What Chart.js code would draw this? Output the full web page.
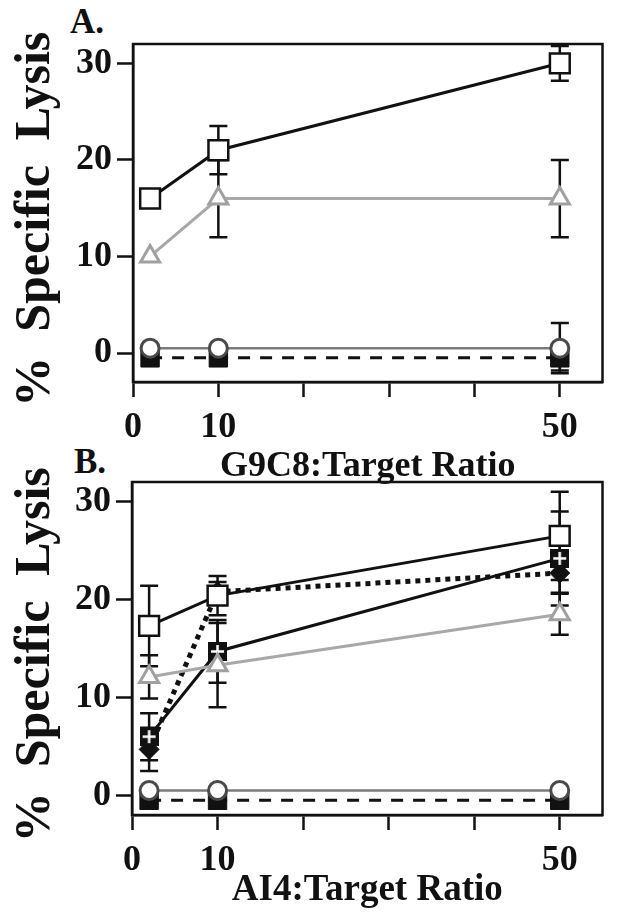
<!DOCTYPE html>
<html>
<head>
<meta charset="utf-8">
<script src="https://cdn.jsdelivr.net/npm/chart.js@4.4.1/dist/chart.umd.min.js"></script>
<style>
  body { margin:0; background:#fff; width:619px; height:914px; position:relative; overflow:hidden; }
  canvas { position:absolute; left:0; }
  #chartA { top:0; }
  #chartB { top:440px; }
  .panel { position:absolute; font-family:"Liberation Serif","Times New Roman",serif; font-weight:bold; font-size:35px; color:#111; }
</style>
</head>
<body>
<div class="panel" style="left:70px;top:2px;">A.</div>
<div class="panel" style="left:74px;top:442px;">B.</div>
<canvas id="chartA" width="619" height="490"></canvas>
<canvas id="chartB" width="619" height="474"></canvas>
<script>
// effector:target ratios
const ratios = [2, 10, 50]
const xTicks = [0, 10, 20, 30, 40, 50]
const xLabels = ['0', '10', '', '', '', '50']
const yTicks = [0, 10, 20, 30]

// panel A - G9C8
const aOpenSquare = [16, 21, 30]
const aOpenSquareErr = [0, 2.5, 1.8]
const aTriangle = [10, 16, 16]
const aTriangleErr = [0, 4, 4]
const aCircle = [0.5, 0.5, 0.5]
const aCircleErr = [0, 0, 2.6]
const aFilledSquare = [-0.5, -0.5, -0.5]
const aFilledSquareErr = [0, 0, 1.3]

// panel B - AI4
const bOpenSquare = [17.3, 20.4, 26.5]
const bOpenSquareErr = [4.1, 2.0, 4.5]
const bCross = [6.0, 14.7, 24.2]
const bCrossErr = [2.4, 3.2, 4.8]
const bDiamond = [4.7, 20.8, 22.7]
const bDiamondErr = [2.2, 1.0, 2.0]
const bTriangle = [12.1, 13.3, 18.5]
const bTriangleErr = [2.2, 4.3, 2.1]
const bCircle = [0.5, 0.5, 0.5]
const bFilledSquare = [-0.5, -0.5, -0.5]

const serif = '"Liberation Serif", "Times New Roman", serif'
const ink = '#111'

function pts(vals) {
  return ratios.map((x, i) => ({ x: x, y: vals[i] }))
}

// black square with white plus for the AI4 series
const crossMark = document.createElement('canvas')
crossMark.width = 19; crossMark.height = 19
const cm = crossMark.getContext('2d')
cm.fillStyle = ink
cm.fillRect(0, 0, 19, 19)
cm.strokeStyle = '#fff'
cm.lineWidth = 2.5
cm.beginPath()
cm.moveTo(9.5, 3); cm.lineTo(9.5, 16)
cm.moveTo(3, 9.5); cm.lineTo(16, 9.5)
cm.stroke()

// error bars, drawn under the markers
const errorBars = {
  id: 'errorBars',
  beforeDatasetsDraw(chart) {
    const ctx = chart.ctx
    const xs = chart.scales.x, ys = chart.scales.y
    ctx.save()
    ctx.strokeStyle = ink
    ctx.lineWidth = 2.5
    chart.data.datasets.forEach(ds => {
      if (!ds.err) return
      ds.err.forEach((e, i) => {
        if (!e) return
        const x = xs.getPixelForValue(ds.data[i].x)
        const top = ys.getPixelForValue(ds.data[i].y + e)
        const bot = ys.getPixelForValue(ds.data[i].y - e)
        ctx.beginPath()
        ctx.moveTo(x, top); ctx.lineTo(x, bot)
        ctx.moveTo(x - 9, top); ctx.lineTo(x + 9, top)
        ctx.moveTo(x - 9, bot); ctx.lineTo(x + 9, bot)
        ctx.stroke()
      })
    })
    ctx.restore()
  }
}

// frame round the plot area
const frame = {
  id: 'frame',
  afterDraw(chart) {
    const a = chart.chartArea, ctx = chart.ctx
    ctx.save()
    ctx.strokeStyle = ink
    ctx.lineWidth = 2.5
    ctx.strokeRect(a.left, a.top, a.right - a.left, a.bottom - a.top)
    ctx.restore()
  }
}

function makeOptions(xTitle, xTitleSize, yMin, padTop, yWidth, xHeight) {
  return {
    responsive: false,
    animation: false,
    layout: { padding: { top: padTop, right: 9, left: 0, bottom: 0 } },
    plugins: { legend: { display: false }, tooltip: { enabled: false } },
    scales: {
      x: {
        type: 'linear', min: 0, max: 55,
        afterBuildTicks: s => { s.ticks = xTicks.map(v => ({ value: v })) },
        afterFit: s => { s.height = xHeight },
        ticks: {
          callback: (v) => xLabels[xTicks.indexOf(v)] ?? '',
          color: ink, padding: 9, maxRotation: 0, autoSkip: false,
          font: { family: serif, size: 36, weight: 'bold' }
        },
        grid: { drawOnChartArea: false, drawTicks: true, tickLength: 15, tickWidth: 2.5, tickColor: ink },
        border: { display: true, color: ink, width: 2.5 },
        title: {
          display: true, text: xTitle, color: ink,
          font: { family: serif, size: xTitleSize, weight: 'bold', lineHeight: 1 },
          padding: { top: 0, bottom: 5 }
        }
      },
      y: {
        type: 'linear', min: yMin, max: 32,
        afterBuildTicks: s => { s.ticks = yTicks.map(v => ({ value: v })) },
        afterFit: s => { s.width = yWidth },
        ticks: {
          color: ink, padding: 5,
          font: { family: serif, size: 36, weight: 'bold' }
        },
        grid: { drawOnChartArea: false, drawTicks: true, tickLength: 16, tickWidth: 2.5, tickColor: ink },
        border: { display: true, color: ink, width: 2.5 },
        title: {
          display: true, text: '%  Specific  Lysis ', color: ink,
          font: { family: serif, size: 50, weight: 'bold', lineHeight: 1 },
          padding: { top: 11, bottom: 0 }
        }
      }
    }
  }
}

function openSquare(vals, err) {
  return { data: pts(vals), err: err, borderColor: ink, borderWidth: 3, tension: 0,
    pointStyle: 'rect', pointRadius: 14, pointBackgroundColor: '#fff', pointBorderColor: ink, pointBorderWidth: 2.5, order: 1 }
}
function triangle(vals, err) {
  return { data: pts(vals), err: err, borderColor: '#a8a8a8', borderWidth: 3, tension: 0,
    pointStyle: 'triangle', pointRadius: 11, pointBackgroundColor: '#fff', pointBorderColor: '#a0a0a0', pointBorderWidth: 3, order: 2 }
}
function circle(vals, err) {
  return { data: pts(vals), err: err, borderColor: '#7a7a7a', borderWidth: 2.5, tension: 0,
    pointStyle: 'circle', pointRadius: 9, pointBackgroundColor: '#fff', pointBorderColor: '#4a4a4a', pointBorderWidth: 3, order: 5 }
}
function filledSquare(vals, err) {
  return { data: pts(vals), err: err, borderColor: ink, borderWidth: 3, borderDash: [12, 10], tension: 0,
    pointStyle: 'rect', pointRadius: 13, pointBackgroundColor: ink, pointBorderColor: ink, pointBorderWidth: 1, order: 6 }
}

new Chart(document.getElementById('chartA'), {
  type: 'line',
  data: { datasets: [
    openSquare(aOpenSquare, aOpenSquareErr),
    triangle(aTriangle, aTriangleErr),
    circle(aCircle, aCircleErr),
    filledSquare(aFilledSquare, aFilledSquareErr)
  ] },
  options: makeOptions('G9C8:Target Ratio', 36, -3, 44, 133, 108),
  plugins: [errorBars, frame]
})

new Chart(document.getElementById('chartB'), {
  type: 'line',
  data: { datasets: [
    openSquare(bOpenSquare, bOpenSquareErr),
    { data: pts(bCross), err: bCrossErr, borderColor: ink, borderWidth: 3, tension: 0,
      pointStyle: crossMark, pointRadius: 10, order: 3 },
    { data: pts(bDiamond), err: bDiamondErr, borderColor: ink, borderWidth: 5, borderDash: [5, 5], tension: 0,
      pointStyle: 'rectRot', pointRadius: 10, pointBackgroundColor: ink, pointBorderColor: ink, pointBorderWidth: 1, order: 4 },
    triangle(bTriangle, bTriangleErr),
    circle(bCircle, null),
    filledSquare(bFilledSquare, null)
  ] },
  options: makeOptions('AI4:Target Ratio', 37, -2, 42, 132, 99),
  plugins: [errorBars, frame]
})
</script>
</body>
</html>
